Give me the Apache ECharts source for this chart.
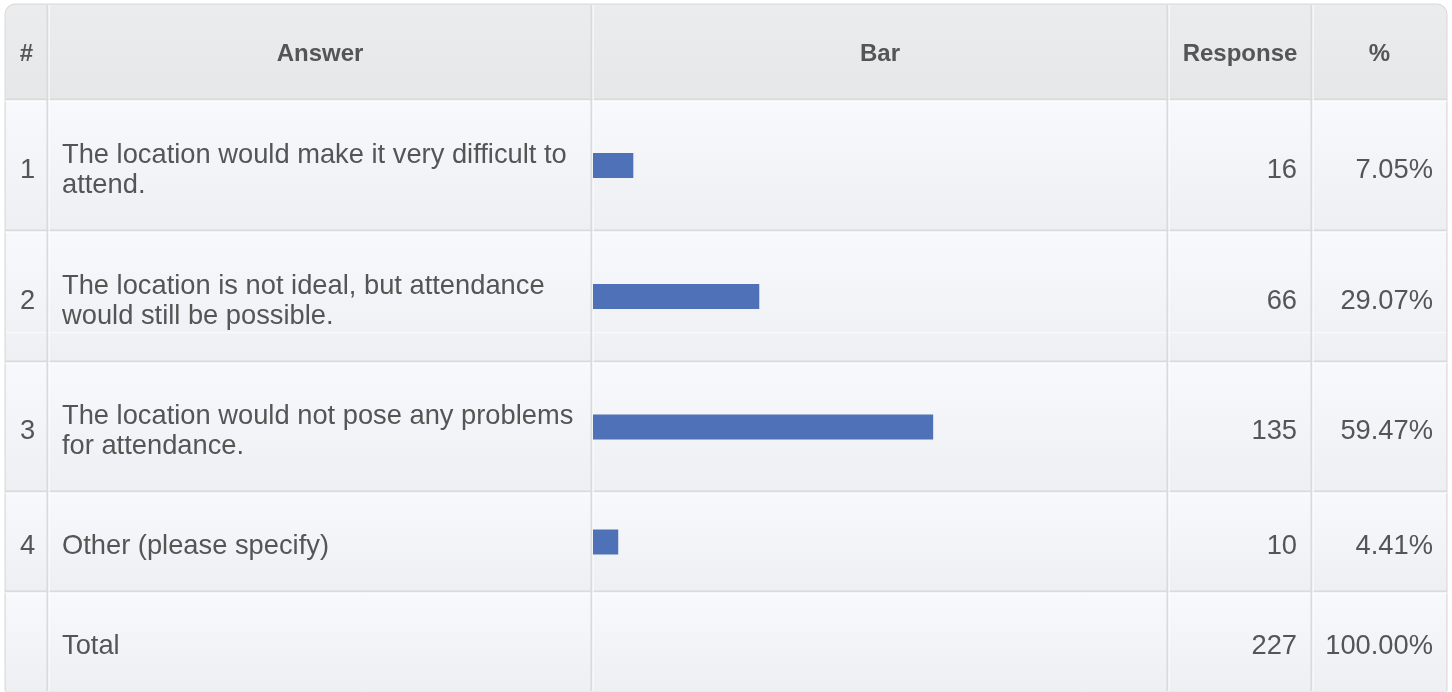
<!DOCTYPE html>
<html>
<head>
<meta charset="utf-8">
<script src="https://cdn.jsdelivr.net/npm/echarts@6/dist/echarts.min.js"></script>
<style>
html,body{margin:0;padding:0;background:#ffffff;}
#chart{width:1452px;height:692px;}
</style>
</head>
<body>
<div id="chart"></div>
<script>
// ---- data ----
const headers = ['#', 'Answer', 'Bar', 'Response', '%'];
const rowNumbers = ['1', '2', '3', '4'];
const answers = [
  'The location would make it very difficult to attend.',
  'The location is not ideal, but attendance would still be possible.',
  'The location would not pose any problems for attendance.',
  'Other (please specify)'
];
const responses = [16, 66, 135, 10];
const percents = [7.05, 29.07, 59.47, 4.41];
const totalLabel = 'Total';
const totalResponse = 227;
const totalPercent = 100.00;

// ---- layout ----
const colX = [5, 48, 592, 1168, 1312, 1447];
const rowY = [4, 100, 231, 362, 492, 592, 691];
const textColor = '#555555';
const barColor = '#4F71B8';
const lineColor = '#dadada';
const FONT = '"Liberation Sans", Arial, Helvetica, sans-serif';

const chart = echarts.init(document.getElementById('chart'), null, {renderer: 'canvas'});

const g = [];
// outer container
g.push({type: 'rect', shape: {x: colX[0], y: rowY[0], width: colX[5] - colX[0], height: rowY[6] - rowY[0], r: [10, 10, 0, 0]},
  style: {fill: '#e9eaec', stroke: '#d8d8d8', lineWidth: 1}, z: 0});
// header gradient
g.push({type: 'rect', shape: {x: colX[0] + 1, y: rowY[0] + 1, width: colX[5] - colX[0] - 2, height: rowY[1] - rowY[0] - 1, r: [9, 9, 0, 0]},
  style: {fill: new echarts.graphic.LinearGradient(0, 0, 0, 1, [{offset: 0, color: '#ebecee'}, {offset: 1, color: '#e6e7e9'}])}, z: 0});
// body rows backgrounds
for (let r = 1; r < 6; r++) {
  g.push({type: 'rect', shape: {x: colX[0] + 1, y: rowY[r], width: colX[5] - colX[0] - 2, height: rowY[r + 1] - rowY[r]},
    style: {fill: new echarts.graphic.LinearGradient(0, 0, 0, 1, [{offset: 0, color: '#f8f9fc'}, {offset: 1, color: '#eeeff2'}])}, z: 0});
}
// faint separator inside row 2
g.push({type: 'rect', shape: {x: colX[0] + 1, y: 332, width: colX[5] - colX[0] - 2, height: 30},
  style: {fill: new echarts.graphic.LinearGradient(0, 0, 0, 1, [{offset: 0, color: '#f1f2f5'}, {offset: 1, color: '#eeeff2'}])}, z: 0});
g.push({type: 'line', shape: {x1: colX[0] + 1, y1: 332.5, x2: colX[5] - 1, y2: 332.5}, style: {stroke: '#fbfbfc', lineWidth: 1}, z: 1});
// horizontal row lines
for (let r = 1; r < 6; r++) {
  g.push({type: 'line', shape: {x1: colX[0], y1: rowY[r] - 0.5, x2: colX[5], y2: rowY[r] - 0.5}, style: {stroke: lineColor, lineWidth: 2}, z: 1});
  g.push({type: 'line', shape: {x1: colX[0], y1: rowY[r] + 1, x2: colX[5], y2: rowY[r] + 1}, style: {stroke: '#ffffff', lineWidth: 1}, z: 1});
}
// vertical column lines
for (let c = 1; c < 5; c++) {
  g.push({type: 'line', shape: {x1: colX[c] - 0.5, y1: rowY[0] + 1, x2: colX[c] - 0.5, y2: rowY[6]}, style: {stroke: lineColor, lineWidth: 2}, z: 1});
  g.push({type: 'line', shape: {x1: colX[c] + 1, y1: rowY[0] + 1, x2: colX[c] + 1, y2: rowY[6]}, style: {stroke: '#ffffff', lineWidth: 1}, z: 1});
}
// header texts
headers.forEach((h, c) => {
  g.push({type: 'text', x: (colX[c] + colX[c + 1]) / 2, y: (rowY[0] + rowY[1]) / 2 + 2,
    style: {text: h, fill: textColor, font: 'bold 24px ' + FONT, textAlign: 'center', textVerticalAlign: 'middle'}, z: 3});
});
// body texts
const bodyFont = '27.3px ' + FONT;
for (let i = 0; i < answers.length; i++) {
  const cy = (rowY[i + 1] + rowY[i + 2]) / 2 + 4.5;
  g.push({type: 'text', x: (colX[0] + colX[1]) / 2 + 1, y: cy,
    style: {text: rowNumbers[i], fill: textColor, font: bodyFont, textAlign: 'center', textVerticalAlign: 'middle'}, z: 3});
  g.push({type: 'text', x: colX[1] + 14, y: cy,
    style: {text: answers[i], fill: textColor, font: bodyFont, textAlign: 'left', textVerticalAlign: 'middle',
      width: 528, overflow: 'break', lineHeight: 30}, z: 3});
  g.push({type: 'text', x: colX[4] - 15, y: cy,
    style: {text: String(responses[i]), fill: textColor, font: bodyFont, textAlign: 'right', textVerticalAlign: 'middle'}, z: 3});
  g.push({type: 'text', x: colX[5] - 14, y: cy,
    style: {text: percents[i].toFixed(2) + '%', fill: textColor, font: bodyFont, textAlign: 'right', textVerticalAlign: 'middle'}, z: 3});
}
// total row
{
  const cy = (rowY[5] + rowY[6]) / 2 + 4.5;
  g.push({type: 'text', x: colX[1] + 14, y: cy,
    style: {text: totalLabel, fill: textColor, font: bodyFont, textAlign: 'left', textVerticalAlign: 'middle'}, z: 3});
  g.push({type: 'text', x: colX[4] - 15, y: cy,
    style: {text: String(totalResponse), fill: textColor, font: bodyFont, textAlign: 'right', textVerticalAlign: 'middle'}, z: 3});
  g.push({type: 'text', x: colX[5] - 14, y: cy,
    style: {text: totalPercent.toFixed(2) + '%', fill: textColor, font: bodyFont, textAlign: 'right', textVerticalAlign: 'middle'}, z: 3});
}

// bars: one small grid per row inside the Bar column
const grids = [], xAxes = [], yAxes = [], series = [];
percents.forEach((p, i) => {
  grids.push({left: colX[2] + 1, top: rowY[i + 1], width: 572, height: rowY[i + 2] - rowY[i + 1], containLabel: false});
  xAxes.push({type: 'value', gridIndex: i, min: 0, max: 100, show: false});
  yAxes.push({type: 'category', gridIndex: i, data: [answers[i]], show: false});
  series.push({type: 'bar', xAxisIndex: i, yAxisIndex: i, data: [p], barWidth: 25, silent: true,
    itemStyle: {color: barColor}, z: 5});
});

chart.setOption({
  animation: false,
  backgroundColor: '#ffffff',
  graphic: {elements: g},
  grid: grids,
  xAxis: xAxes,
  yAxis: yAxes,
  series: series
});
</script>
</body>
</html>
